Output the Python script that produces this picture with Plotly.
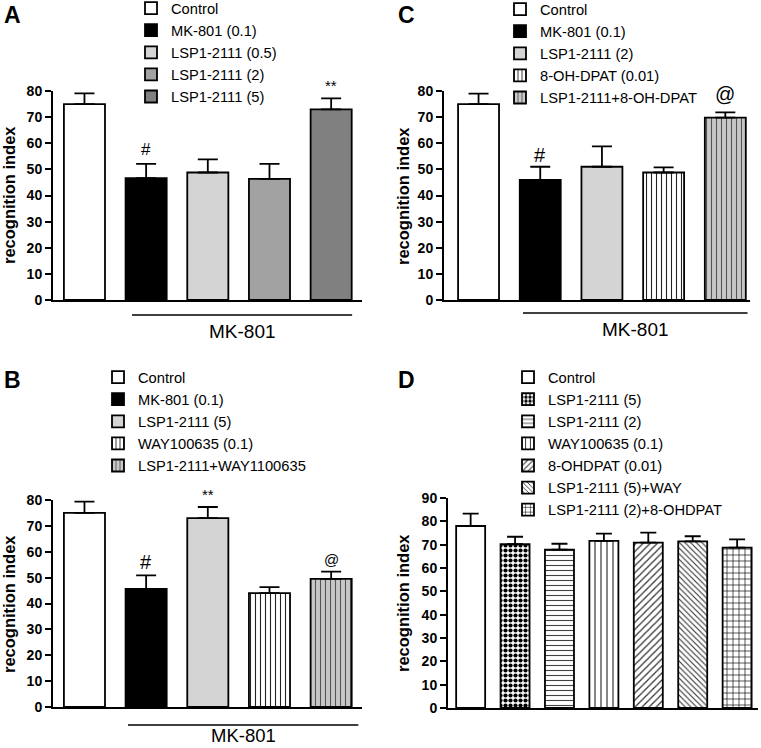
import plotly.graph_objects as go

FONT = "Liberation Sans, Arial, sans-serif"
W, H = 761, 748

# ---------------- data ----------------
A_names = ["Control", "MK-801 (0.1)", "LSP1-2111 (0.5)", "LSP1-2111 (2)", "LSP1-2111 (5)"]
A_mean = [75.0, 46.6, 48.8, 46.4, 73.0]
A_sem = [4.1, 5.5, 5.0, 5.7, 4.2]
A_sig = ["", "#", "", "", "**"]

B_names = ["Control", "MK-801 (0.1)", "LSP1-2111 (5)", "WAY100635 (0.1)", "LSP1-2111+WAY1100635"]
B_mean = [75.0, 45.6, 73.0, 44.0, 49.5]
B_sem = [4.4, 5.3, 4.3, 2.3, 2.8]
B_sig = ["", "#", "**", "", "@"]

C_names = ["Control", "MK-801 (0.1)", "LSP1-2111 (2)", "8-OH-DPAT (0.01)", "LSP1-2111+8-OH-DPAT"]
C_mean = [75.0, 46.0, 51.0, 48.8, 69.8]
C_sem = [4.0, 5.0, 7.8, 2.0, 2.0]
C_sig = ["", "#", "", "", "@"]

D_names = ["Control", "LSP1-2111 (5)", "LSP1-2111 (2)", "WAY100635 (0.1)", "8-OHDPAT (0.01)",
           "LSP1-2111 (5)+WAY", "LSP1-2111 (2)+8-OHDPAT"]
D_mean = [78.0, 70.2, 67.9, 71.6, 70.9, 71.4, 68.7]
D_sem = [5.3, 3.2, 2.5, 3.1, 4.3, 2.2, 3.6]
D_sig = ["", "", "", "", "", "", ""]

group_label = "MK-801"
y_title = "recognition index"

# ---------------- styles ----------------
def st(color, shape="", size=5, sol=0.2, fg="#222222"):
    return dict(color=color, shape=shape, size=size, sol=sol, fg=fg)

A_style = [st("white"), st("black"), st("#d4d4d4"), st("#a2a2a2"), st("#808080")]
B_style = [st("white"), st("black"), st("#d4d4d4"), st("white", "|", 5, 0.22),
           st("#c8c8c8", "|", 5, 0.22, "#555555")]
C_style = [st("white"), st("black"), st("#d4d4d4"), st("white", "|", 5, 0.22),
           st("#c8c8c8", "|", 5, 0.22, "#555555")]
D_style = [st("white"), st("white", ".", 5, 0.55, "black"), st("white", "-", 5, 0.22, "#444444"),
           st("white", "|", 6, 0.2, "#333333"), st("white", "/", 5, 0.25, "#333333"),
           st("white", "\\", 4, 0.28, "#333333"), st("white", "+", 6, 0.22, "#111111")]

fig = go.Figure()

panels = [
    (A_names, A_mean, A_sem, A_sig, A_style, "x", "y", "legend", 0.666, 10,
     {"#": 17, "**": 15, "@": 18}, {"#": 14, "**": 13, "@": 12}),
    (B_names, B_mean, B_sem, B_sig, B_style, "x2", "y2", "legend2", 0.666, 10,
     {"#": 20, "**": 15, "@": 15}, {"#": 13, "**": 12, "@": 12}),
    (C_names, C_mean, C_sem, C_sig, C_style, "x3", "y3", "legend3", 0.664, 10,
     {"#": 20, "**": 15, "@": 20}, {"#": 12, "**": 12, "@": 18}),
    (D_names, D_mean, D_sem, D_sig, D_style, "x4", "y4", "legend4", 0.653, 8, {}, {}),
]

annotations = []
for names, mean, sem, sig, style, xa, ya, lg, bw, capw, sfont, sshift in panels:
    for i, (n, m, e, s) in enumerate(zip(names, mean, sem, style)):
        marker = dict(color=s["color"], line=dict(color="black", width=1.8))
        if s["shape"]:
            marker["pattern"] = dict(shape=s["shape"], size=s["size"], solidity=s["sol"],
                                     fgcolor=s["fg"], bgcolor=s["color"], fillmode="replace")
        fig.add_trace(go.Bar(
            x=[i], y=[m], name=n, width=bw, marker=marker,
            error_y=dict(type="data", symmetric=False, array=[e], arrayminus=[0],
                         color="black", thickness=1.8, width=capw),
            xaxis=xa, yaxis=ya, legend=lg, showlegend=True,
        ))
    for i, lab in enumerate(sig):
        if lab:
            annotations.append(dict(
                x=i, y=mean[i] + sem[i], xref=xa, yref=ya, text=lab, showarrow=False,
                yanchor="middle", yshift=sshift[lab],
                font=dict(family=FONT, size=sfont[lab], color="black")))

def px_x(p):
    return p / W

def px_y(p):
    return 1 - p / H

axis_common = dict(showline=True, linecolor="black", linewidth=2, zeroline=False,
                   showgrid=False, fixedrange=True)
xcommon = dict(axis_common, showticklabels=False, ticks="")
ycommon = dict(axis_common, ticks="outside", ticklen=6, tickwidth=2, tickcolor="black",
               tickfont=dict(family=FONT, size=14, color="black", weight="bold"))

layout = dict(
    width=W, height=H, margin=dict(l=0, r=0, t=0, b=0, autoexpand=False),
    paper_bgcolor="white", plot_bgcolor="white", barmode="overlay",
    xaxis=dict(xcommon, domain=[px_x(53), px_x(362)], range=[-0.51, 4.5], anchor="y"),
    yaxis=dict(ycommon, domain=[px_y(300), px_y(91)], range=[0, 80], dtick=10, anchor="x"),
    xaxis2=dict(xcommon, domain=[px_x(53), px_x(362)], range=[-0.51, 4.5], anchor="y2"),
    yaxis2=dict(ycommon, domain=[px_y(707), px_y(500)], range=[0, 80], dtick=10, anchor="x2"),
    xaxis3=dict(xcommon, domain=[px_x(444), px_x(750)], range=[-0.56, 4.40], anchor="y3"),
    yaxis3=dict(ycommon, domain=[px_y(300), px_y(91)], range=[0, 80], dtick=10, anchor="x3"),
    xaxis4=dict(xcommon, domain=[px_x(448), px_x(758)], range=[-0.51, 6.47], anchor="y4"),
    yaxis4=dict(ycommon, domain=[px_y(708), px_y(498)], range=[0, 90], dtick=10, anchor="x4"),
)

leg_common = dict(bgcolor="rgba(0,0,0,0)", borderwidth=0, traceorder="normal",
                  font=dict(family=FONT, size=14.7, color="black"),
                  xanchor="left", yanchor="top", orientation="v")
layout["legend"] = dict(leg_common, x=px_x(131), y=px_y(-8))
layout["legend2"] = dict(leg_common, x=px_x(98), y=px_y(361))
layout["legend3"] = dict(leg_common, x=px_x(500), y=px_y(-7))
layout["legend4"] = dict(leg_common, x=px_x(508), y=px_y(361))

# panel letters
for letter, lx, ly in [("A", 2, 15), ("B", 2, 380), ("C", 396, 15), ("D", 396, 380)]:
    annotations.append(dict(x=px_x(lx), y=px_y(ly), xref="paper", yref="paper", text=letter,
                            showarrow=False, xanchor="left", yanchor="middle",
                            font=dict(family=FONT, size=23, color="black", weight="bold")))

# y titles
for tx, ty in [(9, 195), (9, 604), (403, 196), (403, 603)]:
    annotations.append(dict(x=px_x(tx), y=px_y(ty), xref="paper", yref="paper", text=y_title,
                            showarrow=False, textangle=-90, xanchor="center", yanchor="middle",
                            font=dict(family=FONT, size=16.5, color="black", weight="bold")))

# MK-801 group lines & labels
shapes = []
for xa, x0, x1, ly, ty, fs in [("x", 0.771, 4.34, 315, 331, 19), ("x2", 0.706, 4.44, 725, 735, 18.5),
                               ("x3", 0.72, 4.36, 313, 329, 19)]:
    shapes.append(dict(type="line", xref=xa, yref="paper", x0=x0, x1=x1,
                       y0=px_y(ly), y1=px_y(ly), line=dict(color="black", width=1.5)))
    annotations.append(dict(x=(x0 + x1) / 2, y=px_y(ty), xref=xa, yref="paper", text=group_label,
                            showarrow=False, xanchor="center", yanchor="middle", borderpad=0,
                            font=dict(family=FONT, size=fs, color="black")))

layout["annotations"] = annotations
layout["shapes"] = shapes
fig.update_layout(**layout)
fig.write_html("out.html", config={"displayModeBar": False},
               post_script="document.body.style.margin='0px';document.body.style.overflow='hidden';")
